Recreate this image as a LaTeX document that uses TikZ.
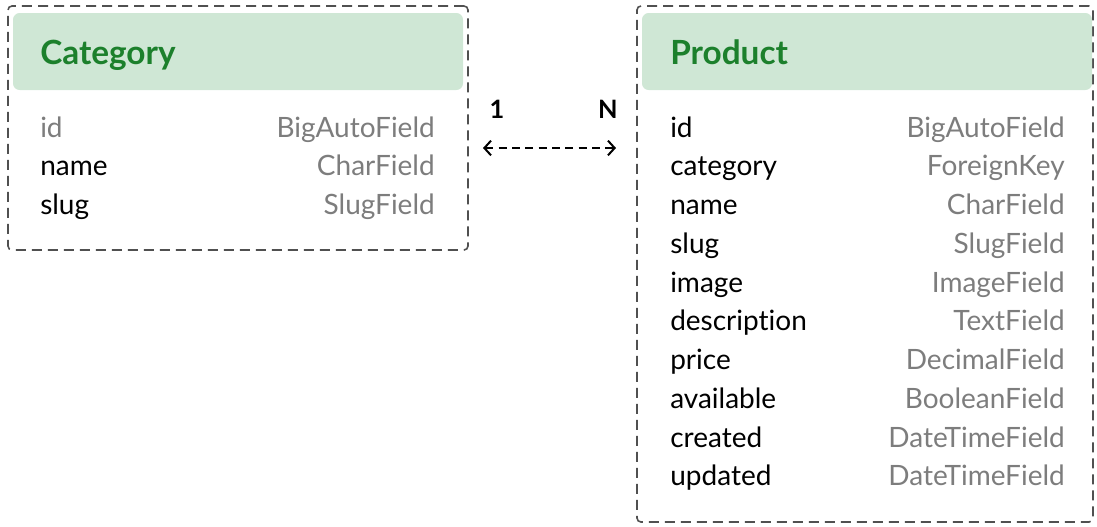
\documentclass[tikz,border=0pt]{standalone}
\usepackage{fontspec}
\setmainfont{Lato}[Ligatures=NoCommon]
\usetikzlibrary{arrows.meta,positioning}
\definecolor{hdrfill}{RGB}{207,231,213}
\definecolor{hdrtext}{RGB}{28,128,44}
\definecolor{typegray}{RGB}{125,125,125}
\definecolor{edgegray}{RGB}{80,80,80}
\begin{document}
\begin{tikzpicture}[x=0.75pt,y=-0.75pt,every node/.style={font=\fontsize{21}{24}\selectfont,inner sep=0},
        tbl/.style={draw=edgegray,line width=1.2pt,dash pattern=on 7.5pt off 4.5pt,rounded corners=3pt},
        hdr/.style={fill=hdrfill,rounded corners=5pt,minimum width=337.5pt,minimum height=57.75pt},
        ttl/.style={anchor=base west,font=\fontsize{25}{29}\selectfont\bfseries,text=hdrtext},
        fld/.style={anchor=base west},
        typ/.style={anchor=base east,text=typegray},
        card/.style={anchor=base,font=\fontsize{19}{22}\selectfont\bfseries},
        rel/.style={draw=black,line width=1.5pt,dash pattern=on 6pt off 4pt,{Straight Barb[length=5pt,width=11pt]}-{Straight Barb[length=5pt,width=11pt]}}]
        \useasboundingbox (0,0) rectangle (1097,526);
        % Category
        \node[tbl,minimum width=345pt,minimum height=183pt] (cat) at (238,128) {};
        \node[hdr] (cathdr) at (238,51.5) {};
        \node[ttl] (cattl) at (40,64) {Category};
        \foreach \f/\t/\c [count=\i from 0] in {id/BigAutoField/typegray,name/CharField/black,slug/SlugField/black}{
            \node[fld,text=\c] (cf\i) at (40,{137+38.75*\i}) {\f};
            \node[typ] (ct\i) at (435,{137+38.75*\i}) {\t};
        }
        % Product
        \node[tbl,minimum width=342pt,minimum height=387pt] (prod) at (865,264) {};
        \node[hdr] (prodhdr) at (867,51.5) {};
        \node[ttl] (prodtl) at (670,64) {Product};
        \foreach \f/\t [count=\i from 0] in {id/BigAutoField,category/ForeignKey,name/CharField,slug/SlugField,
                image/ImageField,description/TextField,price/DecimalField,available/BooleanField,
                created/DateTimeField,updated/DateTimeField}{
            \node[fld] (pf\i) at (670,{137+38.75*\i}) {\f};
            \node[typ] (pt\i) at (1065,{137+38.75*\i}) {\t};
        }
        % relation
        \coordinate (a1) at (483,148);
        \coordinate (a2) at (616,148);
        \draw[rel] (a1) -- (a2);
        \node[card] (one) at (497,118) {1};
        \node[card] (many) at (608,118) {N};
\end{tikzpicture}
\end{document}
